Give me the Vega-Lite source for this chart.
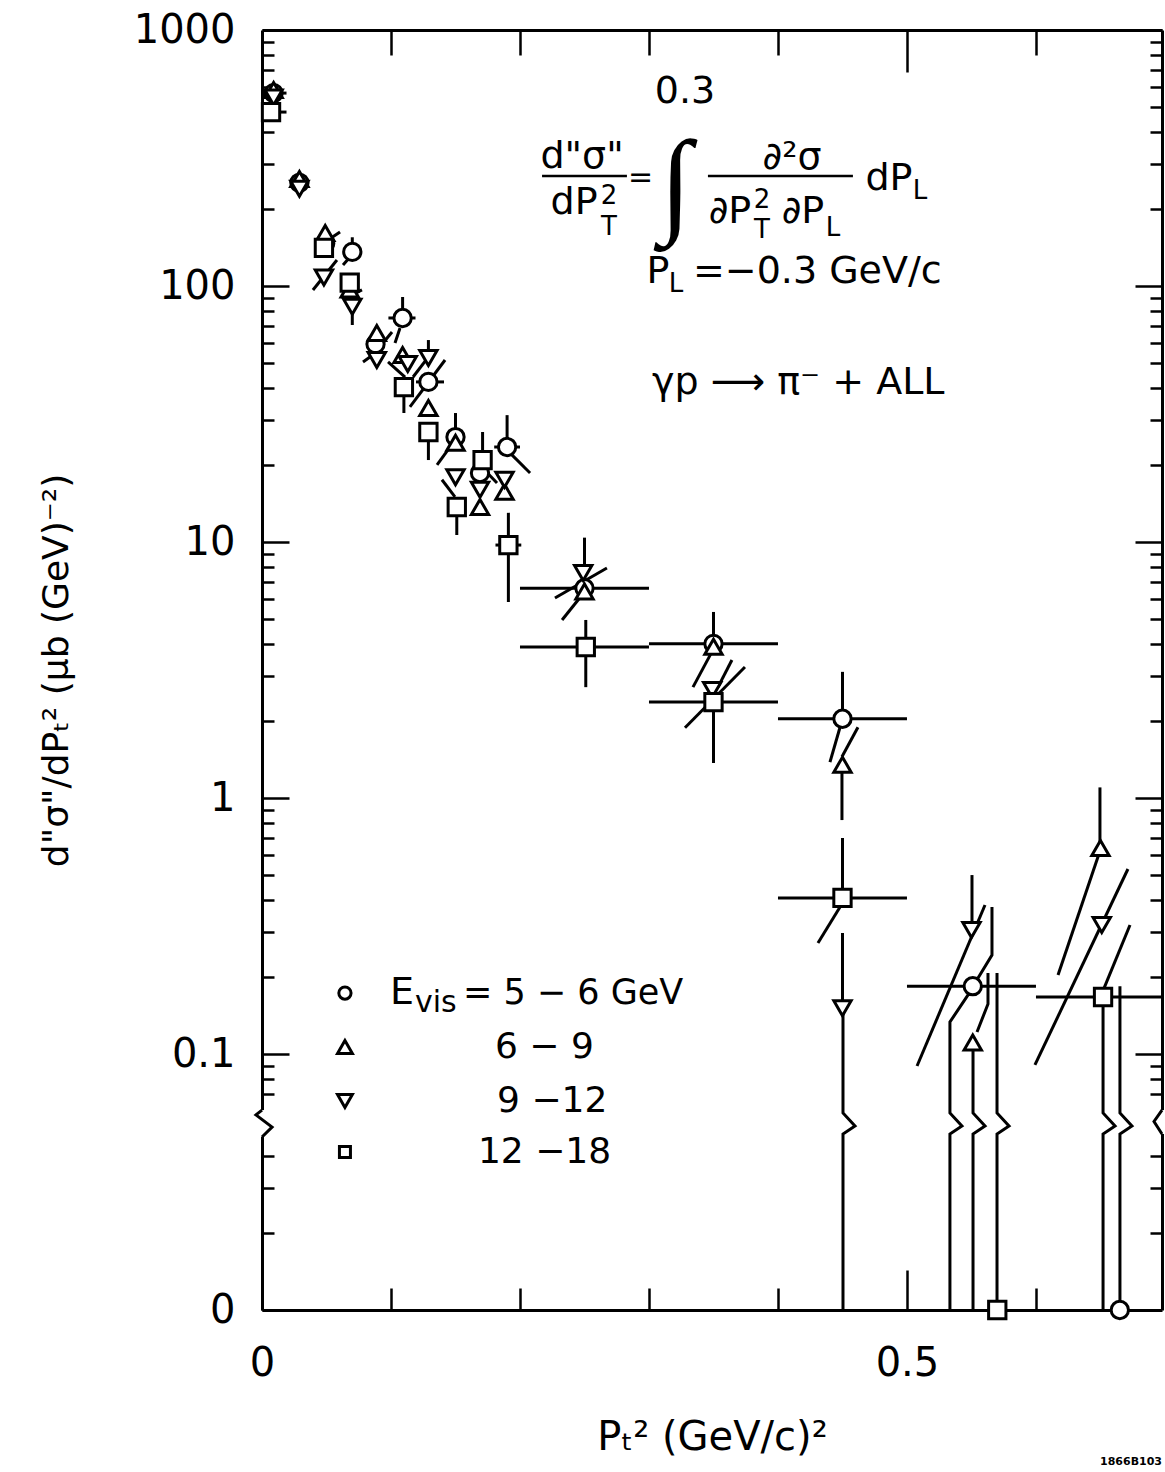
{
  "$schema": "https://vega.github.io/schema/vega-lite/v6.json",
  "width": 900,
  "height": 1280,
  "autosize": {"type": "none"},
  "padding": {"left": 262, "top": 30, "right": 3, "bottom": 162},
  "background": "white",
  "config": {"view": {"stroke": null}, "font": "DejaVu Sans"},
  "data": {"values": [{"a": 1}]},
  "resolve": {"axis": {"x": "independent", "y": "independent"}},
  "layer": [
    {
      "data": {"values": [
        {"x": 0.070, "x2": 0.070, "y": 136, "y2": 155},
        {"x": 0.070, "x2": 0.070, "y": 83, "y2": 70.4},
        {"x": 0.109, "x2": 0.109, "y": 75, "y2": 90.6},
        {"x": 0.129, "x2": 0.129, "y": 52.3, "y2": 61.5},
        {"x": 0.110, "x2": 0.110, "y": 40.3, "y2": 31.9},
        {"x": 0.129, "x2": 0.129, "y": 26.9, "y2": 20.9},
        {"x": 0.150, "x2": 0.150, "y": 25.7, "y2": 31.9},
        {"x": 0.171, "x2": 0.171, "y": 20.9, "y2": 26.9},
        {"x": 0.190, "x2": 0.190, "y": 23.5, "y2": 31.3},
        {"x": 0.151, "x2": 0.151, "y": 13.7, "y2": 10.65},
        {"x": 0.191, "x2": 0.191, "y": 13.0, "y2": 5.83},
        {"x": 0.250, "x2": 0.250, "y": 6.6, "y2": 10.4},
        {"x": 0.251, "x2": 0.251, "y": 4.96, "y2": 2.71},
        {"x": 0.350, "x2": 0.350, "y": 4.0, "y2": 5.33},
        {"x": 0.350, "x2": 0.350, "y": 2.37, "y2": 1.37},
        {"x": 0.450, "x2": 0.450, "y": 2.04, "y2": 3.11},
        {"x": 0.4496, "x2": 0.4496, "y": 1.35, "y2": 0.82},
        {"x": 0.450, "x2": 0.450, "y": 0.407, "y2": 0.698},
        {"x": 0.450, "x2": 0.450, "y": 0.151, "y2": 0.297},
        {"x": 0.5504, "x2": 0.5504, "y": 0.305, "y2": 0.50},
        {"x": 0.6496, "x2": 0.6496, "y": 0.638, "y2": 1.10},
        {"x": 0.2, "x2": 0.3, "y": 6.6, "y2": 6.6},
        {"x": 0.2, "x2": 0.3, "y": 3.89, "y2": 3.89},
        {"x": 0.3, "x2": 0.4, "y": 4.0, "y2": 4.0},
        {"x": 0.3, "x2": 0.4, "y": 2.37, "y2": 2.37},
        {"x": 0.4, "x2": 0.5, "y": 2.04, "y2": 2.04},
        {"x": 0.4, "x2": 0.5, "y": 0.407, "y2": 0.407},
        {"x": 0.5, "x2": 0.6, "y": 0.184, "y2": 0.184},
        {"x": 0.6, "x2": 0.6977, "y": 0.167, "y2": 0.167},
        {"x": 0.063, "x2": 0.077, "y": 136, "y2": 136},
        {"x": 0.098, "x2": 0.119, "y": 75, "y2": 75},
        {"x": 0.1194, "x2": 0.1411, "y": 42.2, "y2": 42.2},
        {"x": 0.180, "x2": 0.200, "y": 23.5, "y2": 23.5},
        {"x": 0.181, "x2": 0.201, "y": 9.73, "y2": 9.73},
        {"x": 0.004, "x2": 0.019, "y": 567, "y2": 567},
        {"x": 0.007, "x2": 0.019, "y": 478, "y2": 478},
        {"x": 0.0395, "x2": 0.0581, "y": 96.5, "y2": 126.4},
        {"x": 0.0512, "x2": 0.0605, "y": 151.2, "y2": 162.5},
        {"x": 0.0628, "x2": 0.0682, "y": 120.8, "y2": 129.8},
        {"x": 0.0698, "x2": 0.0775, "y": 92.2, "y2": 96.5},
        {"x": 0.0938, "x2": 0.1008, "y": 59.9, "y2": 66.1},
        {"x": 0.0783, "x2": 0.0837, "y": 50.5, "y2": 52.8},
        {"x": 0.1031, "x2": 0.107, "y": 59.9, "y2": 68.5},
        {"x": 0.0977, "x2": 0.1109, "y": 50.5, "y2": 44.1},
        {"x": 0.1171, "x2": 0.1302, "y": 44.1, "y2": 53.8},
        {"x": 0.1147, "x2": 0.1419, "y": 33.7, "y2": 51.4},
        {"x": 0.1357, "x2": 0.1457, "y": 20.0, "y2": 23.5},
        {"x": 0.1395, "x2": 0.1496, "y": 17.5, "y2": 15.0},
        {"x": 0.1705, "x2": 0.1822, "y": 19.6, "y2": 17.0},
        {"x": 0.1922, "x2": 0.2078, "y": 22.3, "y2": 18.6},
        {"x": 0.2271, "x2": 0.2674, "y": 6.04, "y2": 7.91},
        {"x": 0.2326, "x2": 0.2481, "y": 4.96, "y2": 6.21},
        {"x": 0.3341, "x2": 0.3496, "y": 2.71, "y2": 3.79},
        {"x": 0.3535, "x2": 0.3643, "y": 2.71, "y2": 3.46},
        {"x": 0.3279, "x2": 0.3744, "y": 1.88, "y2": 3.25},
        {"x": 0.4403, "x2": 0.4481, "y": 1.38, "y2": 1.89},
        {"x": 0.4496, "x2": 0.462, "y": 1.45, "y2": 1.89},
        {"x": 0.431, "x2": 0.4481, "y": 0.2715, "y2": 0.375},
        {"x": 0.5078, "x2": 0.5605, "y": 0.0898, "y2": 0.382},
        {"x": 0.6171, "x2": 0.6496, "y": 0.2035, "y2": 0.621},
        {"x": 0.5992, "x2": 0.6713, "y": 0.0906, "y2": 0.528},
        {"x": 0.6512, "x2": 0.6729, "y": 0.173, "y2": 0.319}
      ]},
      "mark": {"type": "rule", "color": "black", "strokeWidth": 3},
      "encoding": {
        "x": {"field": "x", "type": "quantitative",
          "scale": {"domain": [0, 0.6977], "nice": false, "zero": false},
          "axis": {"orient": "bottom", "values": [0, 0.1, 0.2, 0.3, 0.4, 0.5, 0.6],
            "labelExpr": "datum.value == 0 ? '0' : datum.value == 0.5 ? '0.5' : ''",
            "tickSize": {"condition": {"test": "datum.value == 0.5 || datum.value == 0", "value": -40}, "value": -22},
            "tickWidth": 2.5, "tickColor": "black", "domainWidth": 3, "domainColor": "black",
            "labelFontSize": 40, "labelColor": "black", "labelPadding": 73, "labelFlush": false, "labelOverlap": false,
            "title": "Pₜ²  (GeV/c)²", "titleFontSize": 40, "titleFontWeight": "normal", "titleColor": "black", "titlePadding": 16, "grid": false}},
        "x2": {"field": "x2"},
        "y": {"field": "y", "type": "quantitative",
          "scale": {"type": "log", "domain": [0.01, 1000], "nice": false},
          "axis": {"orient": "left",
            "values": [1000, 900, 800, 700, 600, 500, 400, 300, 200, 100, 90, 80, 70, 60, 50, 40, 30, 20, 10, 9, 8, 7, 6, 5, 4, 3, 2, 1, 0.9, 0.8, 0.7, 0.6, 0.5, 0.4, 0.3, 0.2, 0.1, 0.09, 0.08, 0.07, 0.04, 0.03, 0.02, 0.01],
            "labelExpr": "datum.value == 0.01 ? '0' : indexof([1000, 100, 10, 1, 0.1], datum.value) >= 0 ? '' + datum.value : ''",
            "tickSize": {"condition": {"test": "indexof([1000, 100, 10, 1, 0.1, 0.01], datum.value) >= 0", "value": -27}, "value": -12},
            "tickWidth": 2.5, "tickColor": "black", "domainWidth": 3, "domainColor": "black",
            "labelFontSize": 40, "labelColor": "black", "labelPadding": 54, "labelFlush": false, "labelOverlap": false,
            "title": "d\"σ\"/dPₜ²  (μb (GeV)⁻²)", "titleFontSize": 36, "titleFontWeight": "normal", "titleColor": "black", "titlePadding": 58, "grid": false}},
        "y2": {"field": "y2"}
      }
    },
    {
      "mark": {"type": "rule", "color": "white", "strokeWidth": 7},
      "encoding": {
        "x": {"datum": 0, "type": "quantitative", "scale": {"domain": [0, 0.6977], "nice": false, "zero": false}, "axis": null},
        "y": {"datum": 0.0604, "type": "quantitative", "scale": {"type": "log", "domain": [0.01, 1000], "nice": false}, "axis": null},
        "y2": {"datum": 0.0474}
      }
    },
    {
      "mark": {"type": "rule", "color": "white", "strokeWidth": 7},
      "encoding": {
        "x": {"datum": 0.6977, "type": "quantitative", "scale": {"domain": [0, 0.6977], "nice": false, "zero": false}, "axis": null},
        "y": {"datum": 0.0604, "type": "quantitative", "scale": {"type": "log", "domain": [0.01, 1000], "nice": false}, "axis": null},
        "y2": {"datum": 0.0487}
      }
    },
    {
      "data": {"values": [
        {"g": 1, "i": 1, "x": 0.4504, "y": 0.151}, {"g": 1, "i": 2, "x": 0.4504, "y": 0.0588}, {"g": 1, "i": 3, "x": 0.4597, "y": 0.0523}, {"g": 1, "i": 4, "x": 0.4504, "y": 0.0487}, {"g": 1, "i": 5, "x": 0.4504, "y": 0},
        {"g": 2, "i": 1, "x": 0.548, "y": 0.172}, {"g": 2, "i": 2, "x": 0.5333, "y": 0.1334}, {"g": 2, "i": 3, "x": 0.5333, "y": 0.0588}, {"g": 2, "i": 4, "x": 0.5426, "y": 0.0523}, {"g": 2, "i": 5, "x": 0.5333, "y": 0.0487}, {"g": 2, "i": 6, "x": 0.5333, "y": 0},
        {"g": 3, "i": 1, "x": 0.5512, "y": 0.184}, {"g": 3, "i": 2, "x": 0.5659, "y": 0.2436}, {"g": 3, "i": 3, "x": 0.5659, "y": 0.375},
        {"g": 4, "i": 1, "x": 0.5543, "y": 0.1219}, {"g": 4, "i": 2, "x": 0.5628, "y": 0.1568}, {"g": 4, "i": 3, "x": 0.5628, "y": 0.2072},
        {"g": 5, "i": 1, "x": 0.5512, "y": 0.111}, {"g": 5, "i": 2, "x": 0.5512, "y": 0.0588}, {"g": 5, "i": 3, "x": 0.5605, "y": 0.0523}, {"g": 5, "i": 4, "x": 0.5512, "y": 0.0487}, {"g": 5, "i": 5, "x": 0.5512, "y": 0},
        {"g": 6, "i": 1, "x": 0.5698, "y": 0.2072}, {"g": 6, "i": 2, "x": 0.5698, "y": 0.0588}, {"g": 6, "i": 3, "x": 0.5791, "y": 0.0523}, {"g": 6, "i": 4, "x": 0.5698, "y": 0.0487}, {"g": 6, "i": 5, "x": 0.5698, "y": 0},
        {"g": 7, "i": 1, "x": 0.652, "y": 0.167}, {"g": 7, "i": 2, "x": 0.652, "y": 0.0588}, {"g": 7, "i": 3, "x": 0.6613, "y": 0.0523}, {"g": 7, "i": 4, "x": 0.652, "y": 0.0487}, {"g": 7, "i": 5, "x": 0.652, "y": 0},
        {"g": 8, "i": 1, "x": 0.6651, "y": 0.184}, {"g": 8, "i": 2, "x": 0.6651, "y": 0.0588}, {"g": 8, "i": 3, "x": 0.6744, "y": 0.0523}, {"g": 8, "i": 4, "x": 0.6651, "y": 0.0487}, {"g": 8, "i": 5, "x": 0.6651, "y": 0},
        {"g": 9, "i": 1, "x": 0, "y": 0.0604}, {"g": 9, "i": 2, "x": -0.0047, "y": 0.0578}, {"g": 9, "i": 3, "x": 0.0078, "y": 0.0518}, {"g": 9, "i": 4, "x": 0, "y": 0.0474},
        {"g": 10, "i": 1, "x": 0.6977, "y": 0.0604}, {"g": 10, "i": 2, "x": 0.6915, "y": 0.0545}, {"g": 10, "i": 3, "x": 0.6977, "y": 0.0487}
      ]},
      "transform": [{"calculate": "datum.y > 0 ? datum.y : 0.01", "as": "yp"}],
      "mark": {"type": "line", "color": "black", "strokeWidth": 3},
      "encoding": {
        "x": {"field": "x", "type": "quantitative", "scale": {"domain": [0, 0.6977], "nice": false, "zero": false}, "axis": null},
        "y": {"field": "yp", "type": "quantitative", "scale": {"type": "log", "domain": [0.01, 1000], "nice": false}, "axis": null},
        "detail": {"field": "g"},
        "order": {"field": "i"}
      }
    },
    {
      "data": {"values": [
        {"s": "5-6", "x": 0.009, "y": 567}, {"s": "5-6", "x": 0.029, "y": 253}, {"s": "5-6", "x": 0.049, "y": 147}, {"s": "5-6", "x": 0.070, "y": 136},
        {"s": "5-6", "x": 0.088, "y": 59.3}, {"s": "5-6", "x": 0.109, "y": 75}, {"s": "5-6", "x": 0.129, "y": 42.2}, {"s": "5-6", "x": 0.150, "y": 25.7},
        {"s": "5-6", "x": 0.169, "y": 18.6}, {"s": "5-6", "x": 0.190, "y": 23.5}, {"s": "5-6", "x": 0.250, "y": 6.6}, {"s": "5-6", "x": 0.350, "y": 4.0},
        {"s": "5-6", "x": 0.450, "y": 2.04}, {"s": "5-6", "x": 0.551, "y": 0.184}, {"s": "5-6", "x": 0.665, "y": 0},
        {"s": "6-9", "x": 0.009, "y": 583}, {"s": "6-9", "x": 0.029, "y": 262}, {"s": "6-9", "x": 0.049, "y": 161}, {"s": "6-9", "x": 0.068, "y": 97},
        {"s": "6-9", "x": 0.089, "y": 65.5}, {"s": "6-9", "x": 0.109, "y": 53.8}, {"s": "6-9", "x": 0.129, "y": 33.4}, {"s": "6-9", "x": 0.150, "y": 24.4},
        {"s": "6-9", "x": 0.169, "y": 13.7}, {"s": "6-9", "x": 0.188, "y": 15.7}, {"s": "6-9", "x": 0.250, "y": 6.4}, {"s": "6-9", "x": 0.350, "y": 3.9},
        {"s": "6-9", "x": 0.450, "y": 1.35}, {"s": "6-9", "x": 0.551, "y": 0.111}, {"s": "6-9", "x": 0.650, "y": 0.638},
        {"s": "9-12", "x": 0.009, "y": 545}, {"s": "9-12", "x": 0.029, "y": 240}, {"s": "9-12", "x": 0.048, "y": 108}, {"s": "9-12", "x": 0.070, "y": 83},
        {"s": "9-12", "x": 0.089, "y": 51.4}, {"s": "9-12", "x": 0.113, "y": 49.6}, {"s": "9-12", "x": 0.129, "y": 52.3}, {"s": "9-12", "x": 0.150, "y": 17.9},
        {"s": "9-12", "x": 0.169, "y": 16.0}, {"s": "9-12", "x": 0.188, "y": 17.5}, {"s": "9-12", "x": 0.249, "y": 7.57}, {"s": "9-12", "x": 0.349, "y": 2.64},
        {"s": "9-12", "x": 0.450, "y": 0.151}, {"s": "9-12", "x": 0.550, "y": 0.305}, {"s": "9-12", "x": 0.651, "y": 0.319},
        {"s": "12-18", "x": 0.007, "y": 478}, {"s": "12-18", "x": 0.048, "y": 141}, {"s": "12-18", "x": 0.068, "y": 103}, {"s": "12-18", "x": 0.110, "y": 40.3},
        {"s": "12-18", "x": 0.129, "y": 26.9}, {"s": "12-18", "x": 0.151, "y": 13.7}, {"s": "12-18", "x": 0.171, "y": 20.9}, {"s": "12-18", "x": 0.191, "y": 9.73},
        {"s": "12-18", "x": 0.251, "y": 3.89}, {"s": "12-18", "x": 0.350, "y": 2.37}, {"s": "12-18", "x": 0.450, "y": 0.407}, {"s": "12-18", "x": 0.570, "y": 0},
        {"s": "12-18", "x": 0.652, "y": 0.167}
      ]},
      "transform": [{"calculate": "datum.y > 0 ? datum.y : 0.01", "as": "yp"}],
      "mark": {"type": "point", "fill": "white", "stroke": "black", "strokeWidth": 3, "opacity": 1, "fillOpacity": 1, "size": 300},
      "encoding": {
        "x": {"field": "x", "type": "quantitative", "scale": {"domain": [0, 0.6977], "nice": false, "zero": false},
          "axis": {"orient": "top", "values": [0.1, 0.2, 0.3, 0.4, 0.5, 0.6], "labels": false, "title": null, "grid": false,
            "tickSize": {"condition": {"test": "datum.value == 0.5", "value": -42}, "value": -25},
            "tickWidth": 2.5, "tickColor": "black", "domainWidth": 3, "domainColor": "black"}},
        "y": {"field": "yp", "type": "quantitative", "scale": {"type": "log", "domain": [0.01, 1000], "nice": false},
          "axis": {"orient": "right", "labels": false, "title": null, "grid": false,
            "values": [1000, 900, 800, 700, 600, 500, 400, 300, 200, 100, 90, 80, 70, 60, 50, 40, 30, 20, 10, 9, 8, 7, 6, 5, 4, 3, 2, 1, 0.9, 0.8, 0.7, 0.6, 0.5, 0.4, 0.3, 0.2, 0.1, 0.09, 0.08, 0.07, 0.04, 0.03, 0.02],
            "tickSize": {"condition": {"test": "indexof([1000, 100, 10, 1, 0.1], datum.value) >= 0", "value": -27}, "value": -12},
            "tickWidth": 2.5, "tickColor": "black", "domainWidth": 3, "domainColor": "black"}},
        "shape": {"field": "s", "type": "nominal",
          "scale": {"domain": ["5-6", "6-9", "9-12", "12-18"], "range": ["circle", "triangle-up", "triangle-down", "square"]},
          "legend": null}
      }
    },
    {
      "mark": {"type": "point", "shape": "circle", "size": 150, "fill": "white", "stroke": "black", "strokeWidth": 3, "opacity": 1},
      "encoding": {"x": {"datum": 0.0643, "type": "quantitative", "scale": {"domain": [0, 0.6977], "nice": false, "zero": false}, "axis": null},
        "y": {"datum": 0.173, "type": "quantitative", "scale": {"type": "log", "domain": [0.01, 1000], "nice": false}, "axis": null}}
    },
    {
      "mark": {"type": "point", "shape": "triangle-up", "size": 220, "fill": "white", "stroke": "black", "strokeWidth": 3, "opacity": 1},
      "encoding": {"x": {"datum": 0.0643, "type": "quantitative", "scale": {"domain": [0, 0.6977], "nice": false, "zero": false}, "axis": null},
        "y": {"datum": 0.1065, "type": "quantitative", "scale": {"type": "log", "domain": [0.01, 1000], "nice": false}, "axis": null}}
    },
    {
      "mark": {"type": "point", "shape": "triangle-down", "size": 220, "fill": "white", "stroke": "black", "strokeWidth": 3, "opacity": 1},
      "encoding": {"x": {"datum": 0.0643, "type": "quantitative", "scale": {"domain": [0, 0.6977], "nice": false, "zero": false}, "axis": null},
        "y": {"datum": 0.0655, "type": "quantitative", "scale": {"type": "log", "domain": [0.01, 1000], "nice": false}, "axis": null}}
    },
    {
      "mark": {"type": "point", "shape": "square", "size": 121, "fill": "white", "stroke": "black", "strokeWidth": 3, "opacity": 1},
      "encoding": {"x": {"datum": 0.0643, "type": "quantitative", "scale": {"domain": [0, 0.6977], "nice": false, "zero": false}, "axis": null},
        "y": {"datum": 0.0414, "type": "quantitative", "scale": {"type": "log", "domain": [0.01, 1000], "nice": false}, "axis": null}}
    },
    {
      "mark": {"type": "text", "text": "E", "fontSize": 38, "align": "left", "baseline": "middle"},
      "encoding": {"x": {"datum": 0.0992, "type": "quantitative", "scale": {"domain": [0, 0.6977], "nice": false, "zero": false}, "axis": null},
        "y": {"datum": 0.173, "type": "quantitative", "scale": {"type": "log", "domain": [0.01, 1000], "nice": false}, "axis": null}}
    },
    {
      "mark": {"type": "text", "text": "vis", "fontSize": 30, "align": "left", "baseline": "middle"},
      "encoding": {"x": {"datum": 0.1186, "type": "quantitative", "scale": {"domain": [0, 0.6977], "nice": false, "zero": false}, "axis": null},
        "y": {"datum": 0.1582, "type": "quantitative", "scale": {"type": "log", "domain": [0.01, 1000], "nice": false}, "axis": null}}
    },
    {
      "mark": {"type": "text", "text": "= 5 − 6 GeV", "fontSize": 35, "align": "left", "baseline": "middle"},
      "encoding": {"x": {"datum": 0.1558, "type": "quantitative", "scale": {"domain": [0, 0.6977], "nice": false, "zero": false}, "axis": null},
        "y": {"datum": 0.173, "type": "quantitative", "scale": {"type": "log", "domain": [0.01, 1000], "nice": false}, "axis": null}}
    },
    {
      "mark": {"type": "text", "text": "6 − 9", "fontSize": 36, "align": "left", "baseline": "middle"},
      "encoding": {"x": {"datum": 0.1806, "type": "quantitative", "scale": {"domain": [0, 0.6977], "nice": false, "zero": false}, "axis": null},
        "y": {"datum": 0.1065, "type": "quantitative", "scale": {"type": "log", "domain": [0.01, 1000], "nice": false}, "axis": null}}
    },
    {
      "mark": {"type": "text", "text": "9 −12", "fontSize": 36, "align": "left", "baseline": "middle"},
      "encoding": {"x": {"datum": 0.1822, "type": "quantitative", "scale": {"domain": [0, 0.6977], "nice": false, "zero": false}, "axis": null},
        "y": {"datum": 0.0655, "type": "quantitative", "scale": {"type": "log", "domain": [0.01, 1000], "nice": false}, "axis": null}}
    },
    {
      "mark": {"type": "text", "text": "12 −18", "fontSize": 36, "align": "left", "baseline": "middle"},
      "encoding": {"x": {"datum": 0.1674, "type": "quantitative", "scale": {"domain": [0, 0.6977], "nice": false, "zero": false}, "axis": null},
        "y": {"datum": 0.0414, "type": "quantitative", "scale": {"type": "log", "domain": [0.01, 1000], "nice": false}, "axis": null}}
    },
    {
      "mark": {"type": "text", "text": "0.3", "fontSize": 38, "align": "center", "baseline": "middle"},
      "encoding": {"x": {"datum": 0.3279, "type": "quantitative", "scale": {"domain": [0, 0.6977], "nice": false, "zero": false}, "axis": null},
        "y": {"datum": 572.6, "type": "quantitative", "scale": {"type": "log", "domain": [0.01, 1000], "nice": false}, "axis": null}}
    },
    {
      "mark": {"type": "text", "text": "d\"σ\"", "fontSize": 38, "align": "center", "baseline": "middle"},
      "encoding": {"x": {"datum": 0.2481, "type": "quantitative", "scale": {"domain": [0, 0.6977], "nice": false, "zero": false}, "axis": null},
        "y": {"datum": 319, "type": "quantitative", "scale": {"type": "log", "domain": [0.01, 1000], "nice": false}, "axis": null}}
    },
    {
      "mark": {"type": "rule", "color": "black", "strokeWidth": 2.5},
      "encoding": {"x": {"datum": 0.2171, "type": "quantitative", "scale": {"domain": [0, 0.6977], "nice": false, "zero": false}, "axis": null},
        "x2": {"datum": 0.2829},
        "y": {"datum": 269, "type": "quantitative", "scale": {"type": "log", "domain": [0.01, 1000], "nice": false}, "axis": null}}
    },
    {
      "mark": {"type": "text", "text": "dP", "fontSize": 38, "align": "center", "baseline": "middle"},
      "encoding": {"x": {"datum": 0.2419, "type": "quantitative", "scale": {"domain": [0, 0.6977], "nice": false, "zero": false}, "axis": null},
        "y": {"datum": 211, "type": "quantitative", "scale": {"type": "log", "domain": [0.01, 1000], "nice": false}, "axis": null}}
    },
    {
      "mark": {"type": "text", "text": "2", "fontSize": 26, "align": "center", "baseline": "middle"},
      "encoding": {"x": {"datum": 0.269, "type": "quantitative", "scale": {"domain": [0, 0.6977], "nice": false, "zero": false}, "axis": null},
        "y": {"datum": 224.7, "type": "quantitative", "scale": {"type": "log", "domain": [0.01, 1000], "nice": false}, "axis": null}}
    },
    {
      "mark": {"type": "text", "text": "T", "fontSize": 26, "align": "center", "baseline": "middle"},
      "encoding": {"x": {"datum": 0.269, "type": "quantitative", "scale": {"domain": [0, 0.6977], "nice": false, "zero": false}, "axis": null},
        "y": {"datum": 170, "type": "quantitative", "scale": {"type": "log", "domain": [0.01, 1000], "nice": false}, "axis": null}}
    },
    {
      "mark": {"type": "text", "text": "=", "fontSize": 30, "align": "center", "baseline": "middle"},
      "encoding": {"x": {"datum": 0.2935, "type": "quantitative", "scale": {"domain": [0, 0.6977], "nice": false, "zero": false}, "axis": null},
        "y": {"datum": 264, "type": "quantitative", "scale": {"type": "log", "domain": [0.01, 1000], "nice": false}, "axis": null}}
    },
    {
      "mark": {"type": "text", "text": "∫", "font": "Liberation Serif", "fontSize": 116, "align": "center", "baseline": "middle"},
      "encoding": {"x": {"datum": 0.3206, "type": "quantitative", "scale": {"domain": [0, 0.6977], "nice": false, "zero": false}, "axis": null},
        "y": {"datum": 245.8, "type": "quantitative", "scale": {"type": "log", "domain": [0.01, 1000], "nice": false}, "axis": null}}
    },
    {
      "mark": {"type": "text", "text": "∂²σ", "fontSize": 38, "align": "center", "baseline": "middle"},
      "encoding": {"x": {"datum": 0.4109, "type": "quantitative", "scale": {"domain": [0, 0.6977], "nice": false, "zero": false}, "axis": null},
        "y": {"datum": 316, "type": "quantitative", "scale": {"type": "log", "domain": [0.01, 1000], "nice": false}, "axis": null}}
    },
    {
      "mark": {"type": "rule", "color": "black", "strokeWidth": 2.5},
      "encoding": {"x": {"datum": 0.3457, "type": "quantitative", "scale": {"domain": [0, 0.6977], "nice": false, "zero": false}, "axis": null},
        "x2": {"datum": 0.4581},
        "y": {"datum": 269, "type": "quantitative", "scale": {"type": "log", "domain": [0.01, 1000], "nice": false}, "axis": null}}
    },
    {
      "mark": {"type": "text", "text": "∂P", "fontSize": 38, "align": "center", "baseline": "middle"},
      "encoding": {"x": {"datum": 0.3628, "type": "quantitative", "scale": {"domain": [0, 0.6977], "nice": false, "zero": false}, "axis": null},
        "y": {"datum": 194.5, "type": "quantitative", "scale": {"type": "log", "domain": [0.01, 1000], "nice": false}, "axis": null}}
    },
    {
      "mark": {"type": "text", "text": "2", "fontSize": 26, "align": "center", "baseline": "middle"},
      "encoding": {"x": {"datum": 0.3876, "type": "quantitative", "scale": {"domain": [0, 0.6977], "nice": false, "zero": false}, "axis": null},
        "y": {"datum": 216.7, "type": "quantitative", "scale": {"type": "log", "domain": [0.01, 1000], "nice": false}, "axis": null}}
    },
    {
      "mark": {"type": "text", "text": "T", "fontSize": 26, "align": "center", "baseline": "middle"},
      "encoding": {"x": {"datum": 0.3876, "type": "quantitative", "scale": {"domain": [0, 0.6977], "nice": false, "zero": false}, "axis": null},
        "y": {"datum": 165.6, "type": "quantitative", "scale": {"type": "log", "domain": [0.01, 1000], "nice": false}, "axis": null}}
    },
    {
      "mark": {"type": "text", "text": "∂P", "fontSize": 38, "align": "center", "baseline": "middle"},
      "encoding": {"x": {"datum": 0.4194, "type": "quantitative", "scale": {"domain": [0, 0.6977], "nice": false, "zero": false}, "axis": null},
        "y": {"datum": 194.5, "type": "quantitative", "scale": {"type": "log", "domain": [0.01, 1000], "nice": false}, "axis": null}}
    },
    {
      "mark": {"type": "text", "text": "L", "fontSize": 26, "align": "center", "baseline": "middle"},
      "encoding": {"x": {"datum": 0.4426, "type": "quantitative", "scale": {"domain": [0, 0.6977], "nice": false, "zero": false}, "axis": null},
        "y": {"datum": 168, "type": "quantitative", "scale": {"type": "log", "domain": [0.01, 1000], "nice": false}, "axis": null}}
    },
    {
      "mark": {"type": "text", "text": "dP", "fontSize": 38, "align": "center", "baseline": "middle"},
      "encoding": {"x": {"datum": 0.486, "type": "quantitative", "scale": {"domain": [0, 0.6977], "nice": false, "zero": false}, "axis": null},
        "y": {"datum": 261.8, "type": "quantitative", "scale": {"type": "log", "domain": [0.01, 1000], "nice": false}, "axis": null}}
    },
    {
      "mark": {"type": "text", "text": "L", "fontSize": 26, "align": "center", "baseline": "middle"},
      "encoding": {"x": {"datum": 0.510, "type": "quantitative", "scale": {"domain": [0, 0.6977], "nice": false, "zero": false}, "axis": null},
        "y": {"datum": 235, "type": "quantitative", "scale": {"type": "log", "domain": [0.01, 1000], "nice": false}, "axis": null}}
    },
    {
      "mark": {"type": "text", "text": "P", "fontSize": 38, "align": "center", "baseline": "middle"},
      "encoding": {"x": {"datum": 0.307, "type": "quantitative", "scale": {"domain": [0, 0.6977], "nice": false, "zero": false}, "axis": null},
        "y": {"datum": 113.4, "type": "quantitative", "scale": {"type": "log", "domain": [0.01, 1000], "nice": false}, "axis": null}}
    },
    {
      "mark": {"type": "text", "text": "L", "fontSize": 26, "align": "center", "baseline": "middle"},
      "encoding": {"x": {"datum": 0.321, "type": "quantitative", "scale": {"domain": [0, 0.6977], "nice": false, "zero": false}, "axis": null},
        "y": {"datum": 101.8, "type": "quantitative", "scale": {"type": "log", "domain": [0.01, 1000], "nice": false}, "axis": null}}
    },
    {
      "mark": {"type": "text", "text": "=−0.3  GeV/c", "fontSize": 38, "align": "left", "baseline": "middle"},
      "encoding": {"x": {"datum": 0.3341, "type": "quantitative", "scale": {"domain": [0, 0.6977], "nice": false, "zero": false}, "axis": null},
        "y": {"datum": 113.4, "type": "quantitative", "scale": {"type": "log", "domain": [0.01, 1000], "nice": false}, "axis": null}}
    },
    {
      "mark": {"type": "text", "text": "γp ⟶ π⁻ + ALL", "fontSize": 38, "align": "left", "baseline": "middle"},
      "encoding": {"x": {"datum": 0.3023, "type": "quantitative", "scale": {"domain": [0, 0.6977], "nice": false, "zero": false}, "axis": null},
        "y": {"datum": 41.8, "type": "quantitative", "scale": {"type": "log", "domain": [0.01, 1000], "nice": false}, "axis": null}}
    },
    {
      "mark": {"type": "text", "text": "1866B103", "fontSize": 11, "fontWeight": "bold", "align": "right", "baseline": "middle"},
      "encoding": {"x": {"datum": 0.6977, "type": "quantitative", "scale": {"domain": [0, 0.6977], "nice": false, "zero": false}, "axis": null},
        "y": {"datum": 0.00255, "type": "quantitative", "scale": {"type": "log", "domain": [0.01, 1000], "nice": false}, "axis": null}}
    }
  ]
}
